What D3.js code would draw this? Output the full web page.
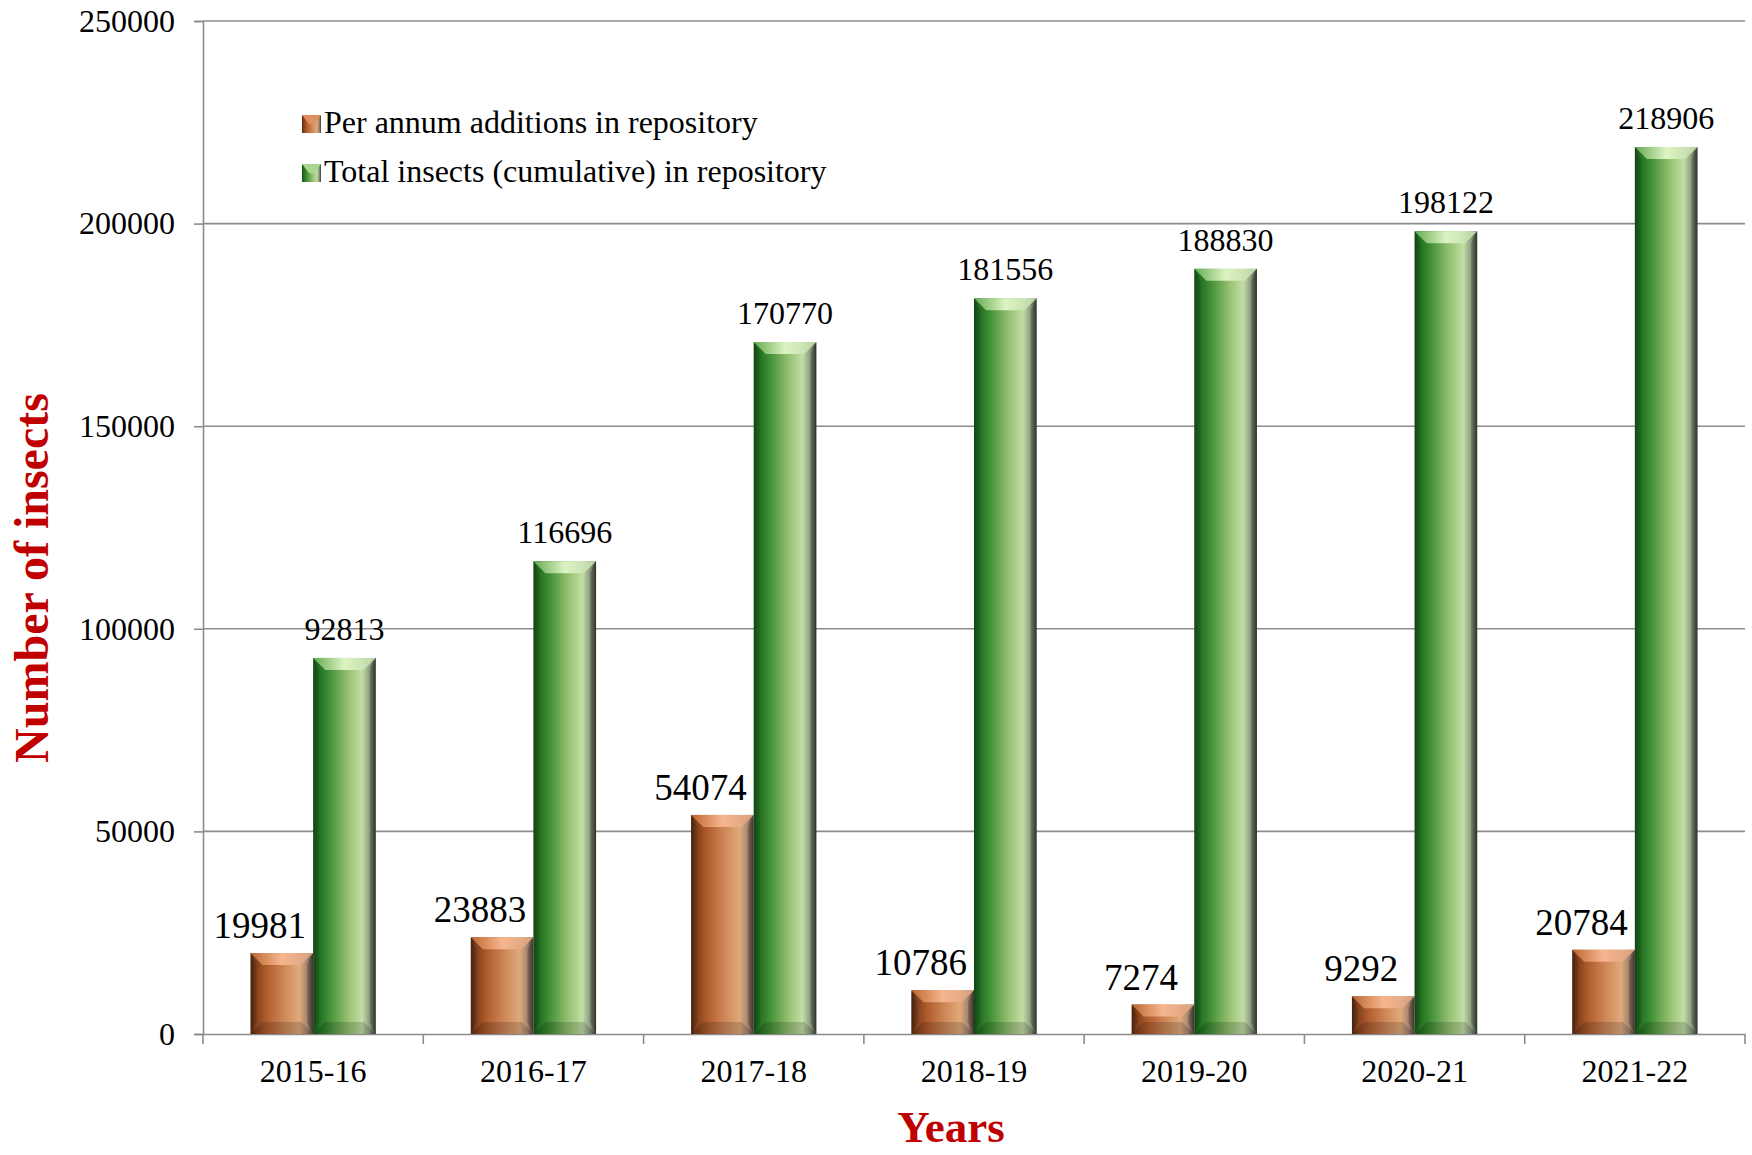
<!DOCTYPE html>
<html>
<head>
<meta charset="utf-8">
<script src="https://cdn.jsdelivr.net/npm/d3@7"></script>
<style>
body{margin:0;background:#fff;}
text{font-family:"Liberation Serif","Times New Roman",serif;}
</style>
</head>
<body>
<div id="svg-container"></div>
<script>
var years = ["2015-16","2016-17","2017-18","2018-19","2019-20","2020-21","2021-22"];
var perAnnum = [19981,23883,54074,10786,7274,9292,20784];
var cumulative = [92813,116696,170770,181556,188830,198122,218906];
var seriesNames = ["Per annum additions in repository","Total insects (cumulative) in repository"];
var yTicks = [0,50000,100000,150000,200000,250000];

var svg = d3.select("#svg-container").append("svg").attr("width",1752).attr("height",1155);
var defs = svg.append("defs");

// horizontal gradients for the bevelled bars
function hGrad(id, stops){
    var g = defs.append("linearGradient").attr("id",id).attr("x1","0").attr("x2","1").attr("y1","0").attr("y2","0");
    stops.forEach(function(s){ g.append("stop").attr("offset",s[0]).attr("stop-color",s[1]); });
}
hGrad("orangeBar",[[0,"#4e2710"],[0.07,"#7a3c1a"],[0.25,"#b05c2c"],[0.55,"#d0895a"],[0.78,"#dfaa7c"],[0.9,"#a78670"],[1,"#4a3e36"]]);
hGrad("greenBar",[[0,"#174f17"],[0.07,"#1f6a1f"],[0.25,"#3f8f35"],[0.55,"#94c070"],[0.78,"#c3dea5"],[0.9,"#8d9c82"],[1,"#363d31"]]);
hGrad("orangeTop",[[0,"#c06a34"],[0.5,"#f8b890"],[1,"#d8a080"]]);
hGrad("greenTop",[[0,"#68ae52"],[0.5,"#e2f6c8"],[1,"#bcd6a6"]]);

var x0 = d3.scaleBand().domain(years).range([203,1745]).paddingInner(0).paddingOuter(0);
var x1 = d3.scaleBand().domain([0,1]).range([47.5, x0.bandwidth()-47.5]).padding(0);
var y = d3.scaleLinear().domain([0,250000]).range([1034,21]);

// grid lines
svg.append("g").selectAll("line").data(yTicks.slice(1)).enter().append("line")
    .attr("x1",203).attr("x2",1745).attr("y1",function(d){return y(d);}).attr("y2",function(d){return y(d);})
    .attr("stroke","#8c8c8c").attr("stroke-width",1.6);

// y axis
var yAxis = svg.append("g").attr("transform","translate(203,0)")
    .call(d3.axisLeft(y).tickValues(yTicks).tickSize(9).tickPadding(19).tickFormat(d3.format("d")));
yAxis.select(".domain").attr("stroke","#8c8c8c").attr("stroke-width",1.6);
yAxis.selectAll(".tick line").attr("stroke","#8c8c8c").attr("stroke-width",1.6);
yAxis.selectAll("text").attr("font-size",32).attr("fill","#000").style("font-family","'Liberation Serif','Times New Roman',serif");

// x axis
var xAxis = svg.append("g").attr("transform","translate(0,1034)")
    .call(d3.axisBottom(x0).tickSize(0).tickPadding(25));
xAxis.select(".domain").attr("stroke","#8c8c8c").attr("stroke-width",1.6);
xAxis.selectAll("text").attr("font-size",32).attr("fill","#000").style("font-family","'Liberation Serif','Times New Roman',serif");
svg.append("g").selectAll("line").data(years.concat(["end"])).enter().append("line")
    .attr("x1",function(d,i){return 203 + i*x0.bandwidth();}).attr("x2",function(d,i){return 203 + i*x0.bandwidth();})
    .attr("y1",1034).attr("y2",1044).attr("stroke","#8c8c8c").attr("stroke-width",1.6);

// bars
var rows = years.map(function(yr,i){ return {year:yr, vals:[perAnnum[i],cumulative[i]]}; });
var bev = 12;
var groups = svg.append("g").selectAll("g").data(rows).enter().append("g")
    .attr("transform",function(d){return "translate("+x0(d.year)+",0)";});

var bars = groups.selectAll("g").data(function(d){ return d.vals.map(function(v,k){return {v:v,k:k};}); })
    .enter().append("g");

bars.append("rect")
    .attr("x",function(d){return x1(d.k);})
    .attr("y",function(d){return y(d.v);})
    .attr("width",x1.bandwidth())
    .attr("height",function(d){return y(0)-y(d.v);})
    .attr("fill",function(d){return d.k===0 ? "url(#orangeBar)" : "url(#greenBar)";});

// top bevel
bars.append("polygon")
    .attr("points",function(d){
        var xl = x1(d.k), xr = xl + x1.bandwidth(), yt = y(d.v);
        return [[xl,yt],[xr,yt],[xr-bev,yt+bev],[xl+bev,yt+bev]].join(" ");
    })
    .attr("fill",function(d){return d.k===0 ? "url(#orangeTop)" : "url(#greenTop)";})
    .attr("opacity",0.95);
// bottom bevel
bars.append("polygon")
    .attr("points",function(d){
        var xl = x1(d.k), xr = xl + x1.bandwidth(), yb = y(0);
        return [[xl,yb],[xr,yb],[xr-bev,yb-bev],[xl+bev,yb-bev]].join(" ");
    })
    .attr("fill","#000").attr("opacity",0.16);
// left bevel
bars.append("polygon")
    .attr("points",function(d){
        var xl = x1(d.k), yt = y(d.v), yb = y(0);
        return [[xl,yt],[xl+bev*0.5,yt+bev],[xl+bev*0.5,yb-bev],[xl,yb]].join(" ");
    })
    .attr("fill","#000").attr("opacity",0.12);
// right bevel
bars.append("polygon")
    .attr("points",function(d){
        var xr = x1(d.k)+x1.bandwidth(), yt = y(d.v), yb = y(0);
        return [[xr,yt],[xr-bev*0.5,yt+bev],[xr-bev*0.5,yb-bev],[xr,yb]].join(" ");
    })
    .attr("fill","#000").attr("opacity",0.18);

// value labels
bars.append("text")
    .attr("x",function(d){return x1(d.k) + x1.bandwidth()/2 + (d.k===0 ? -22 : 0);})
    .attr("y",function(d){return y(d.v) - (d.k===0 ? 15 : 18);})
    .attr("text-anchor","middle")
    .attr("font-size",function(d){return d.k===0 ? 37 : 32;})
    .attr("fill","#000")
    .text(function(d){return d.v;});

// legend
var legend = svg.append("g").selectAll("g").data(seriesNames).enter().append("g")
    .attr("transform",function(d,i){return "translate(302,"+(133 + i*49)+")";});
legend.append("rect").attr("x",0).attr("y",-18).attr("width",19).attr("height",18)
    .attr("fill",function(d,i){return i===0 ? "url(#orangeBar)" : "url(#greenBar)";});
legend.append("polygon").attr("points","0,-18 19,-18 12,-9 7,-9")
    .attr("fill",function(d,i){return i===0 ? "#e09060" : "#a8d890";});
legend.append("text").attr("x",22).attr("y",0).attr("font-size",32).attr("fill","#000").text(function(d){return d;});

// axis titles
svg.append("text").attr("transform","translate(48,578) rotate(-90)")
    .attr("text-anchor","middle").attr("font-size",48).attr("font-weight","bold").attr("fill","#c00000")
    .text("Number of insects");
svg.append("text").attr("x",951).attr("y",1142)
    .attr("text-anchor","middle").attr("font-size",45).attr("font-weight","bold").attr("fill","#c00000")
    .text("Years");
</script>
</body>
</html>
